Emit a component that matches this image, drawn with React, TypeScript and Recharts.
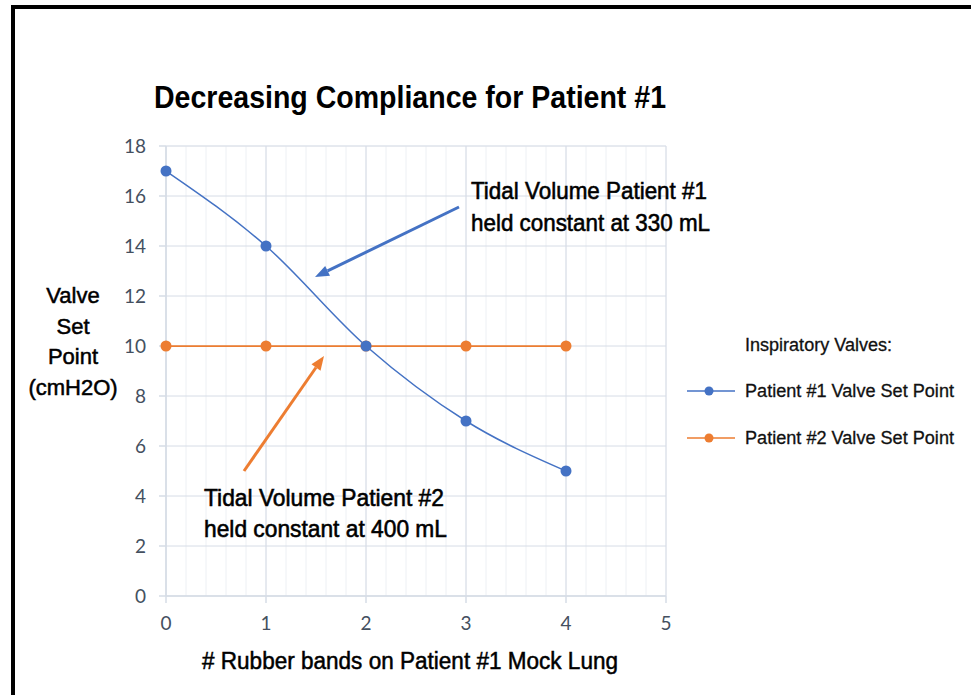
import React from 'react';
import {
  LineChart,
  Line,
  XAxis,
  YAxis,
  CartesianGrid,
  ReferenceLine,
  Legend,
} from 'recharts';

// ---- data ----
const rubberBands = [0, 1, 2, 3, 4];
const patient1 = [17, 14, 10, 7, 5];
const patient2 = [10, 10, 10, 10, 10];
const xTicks = [0, 1, 2, 3, 4, 5];
const yTicks = [0, 2, 4, 6, 8, 10, 12, 14, 16, 18];
const seriesNames = ['Patient #1 Valve Set Point', 'Patient #2 Valve Set Point'];
const legendTitle = 'Inspiratory Valves:';
const chartTitle = 'Decreasing Compliance for Patient #1';
const xLabel = '# Rubber bands on Patient #1 Mock Lung';
const yLabelLines = ['Valve', 'Set', 'Point', '(cmH2O)'];
const note1Lines = ['Tidal Volume Patient #1', 'held constant at 330 mL'];
const note2Lines = ['Tidal Volume Patient #2', 'held constant at 400 mL'];
// arrows: [tail, head] in data coordinates
const arrow1 = [{ x: 2.93, y: 15.56 }, { x: 1.49, y: 12.76 }];
const arrow2 = [{ x: 0.78, y: 5.0 }, { x: 1.58, y: 9.6 }];

const minorXTicks = Array.from({ length: 26 }, (_, i) => +(i * 0.2).toFixed(2));
const minorYTicks = Array.from({ length: 46 }, (_, i) => +(i * 0.4).toFixed(2));

const data = rubberBands.map((x, i) => ({ x, p1: patient1[i], p2: patient2[i] }));

const BLUE = '#4472C4';
const ORANGE = '#ED7D31';
const MAJOR = '#d6dce6';
const MINOR = '#edf0f4';
const TICK_COLOR = '#44505f';
const TXT_FONT = "'Liberation Sans', Arial, sans-serif";

const makeArrow = (color: string) => (props: any) => {
  const { x1, y1, x2, y2 } = props;
  const ang = Math.atan2(y2 - y1, x2 - x1);
  const len = 14;
  const half = 5.5;
  const bx = x2 - len * Math.cos(ang);
  const by = y2 - len * Math.sin(ang);
  const px = -Math.sin(ang) * half;
  const py = Math.cos(ang) * half;
  return (
    <g>
      <line x1={x1} y1={y1} x2={bx} y2={by} stroke={color} strokeWidth={3} />
      <polygon points={`${x2},${y2} ${bx + px},${by + py} ${bx - px},${by - py}`} fill={color} />
    </g>
  );
};

const LegendContent = (props: any) => {
  const payload = props.payload || [];
  return (
    <svg width={290} height={140} style={{ display: 'block' }}>
      <text x={65} y={26} fontFamily={TXT_FONT} fontSize={18} fill="#111" stroke="#111" strokeWidth={0.3} textLength={147} lengthAdjust="spacingAndGlyphs">
        {legendTitle}
      </text>
      {payload.map((p: any, i: number) => {
        const cy = 66 + i * 47;
        return (
          <g key={i}>
            <line x1={7} y1={cy} x2={55} y2={cy} stroke={p.color} strokeWidth={1.5} />
            <circle cx={29} cy={cy} r={4.5} fill={p.color} />
            <text x={65} y={cy + 6} fontFamily={TXT_FONT} fontSize={18} fill="#111" stroke="#111" strokeWidth={0.3} textLength={209} lengthAdjust="spacingAndGlyphs">
              {p.value}
            </text>
          </g>
        );
      })}
    </svg>
  );
};

export default function App() {
  return (
    <div style={{ position: 'absolute', left: 0, top: 0, width: 971, height: 695, background: '#fff' }}>
      <LineChart
        width={971}
        height={695}
        data={data}
        margin={{ top: 146, right: 305, bottom: 59, left: 106 }}
      >
        <XAxis xAxisId="minor" dataKey="x" type="number" domain={[0, 5]} ticks={minorXTicks} interval={0} hide />
        <YAxis yAxisId="minor" type="number" domain={[0, 18]} ticks={minorYTicks} interval={0} hide />
        <CartesianGrid xAxisId="minor" yAxisId="minor" stroke={MINOR} strokeWidth={1} />
        <CartesianGrid stroke={MAJOR} strokeWidth={1} />
        <XAxis
          dataKey="x"
          type="number"
          domain={[0, 5]}
          ticks={xTicks}
          interval={0}
          height={40}
          tickSize={7}
          tickMargin={14}
          axisLine={{ stroke: MAJOR, strokeWidth: 1.5 }}
          tickLine={{ stroke: MAJOR, strokeWidth: 1.5 }}
          tick={{ fill: TICK_COLOR, fontSize: 19, fontFamily: 'Lato, sans-serif' }}
        />
        <YAxis
          type="number"
          domain={[0, 18]}
          ticks={yTicks}
          interval={0}
          width={60}
          tickSize={7}
          tickMargin={13}
          axisLine={{ stroke: MAJOR, strokeWidth: 1.5 }}
          tickLine={{ stroke: MAJOR, strokeWidth: 1.5 }}
          tick={{ fill: TICK_COLOR, fontSize: 19, fontFamily: 'Lato, sans-serif' }}
        />
        <Line
          dataKey="p2"
          name={seriesNames[1]}
          type="linear"
          stroke={ORANGE}
          strokeWidth={1.75}
          dot={{ r: 5.5, fill: ORANGE, stroke: ORANGE, strokeWidth: 0 }}
          activeDot={false}
          isAnimationActive={false}
        />
        <Line
          dataKey="p1"
          name={seriesNames[0]}
          type="monotone"
          stroke={BLUE}
          strokeWidth={1.5}
          dot={{ r: 5.5, fill: BLUE, stroke: BLUE, strokeWidth: 0 }}
          activeDot={false}
          isAnimationActive={false}
        />
        <ReferenceLine segment={arrow1} stroke={BLUE} shape={makeArrow(BLUE)} ifOverflow="visible" />
        <ReferenceLine segment={arrow2} stroke={ORANGE} shape={makeArrow(ORANGE)} ifOverflow="visible" />
        <Legend
          layout="vertical"
          align="center"
          verticalAlign="middle"
          payload={[
            { value: seriesNames[0], type: 'line', color: BLUE, id: 'p1' },
            { value: seriesNames[1], type: 'line', color: ORANGE, id: 'p2' },
          ]}
          content={LegendContent}
          wrapperStyle={{ position: 'absolute', left: 680, top: 325, width: 290, height: 140 }}
        />
      </LineChart>
      <svg
        width={971}
        height={695}
        style={{ position: 'absolute', left: 0, top: 0, pointerEvents: 'none' }}
      >
        <rect x={11} y={5} width={960} height={4} fill="#000" />
        <rect x={11} y={5} width={4} height={690} fill="#000" />
        <text x={154} y={108} fontFamily={TXT_FONT} fontWeight="bold" fontSize={31} fill="#000" textLength={512} lengthAdjust="spacingAndGlyphs">
          {chartTitle}
        </text>
        {note1Lines.map((t, i) => (
          <text key={'n1' + i} x={471} y={199 + i * 32} fontFamily={TXT_FONT} fontSize={24.5} fill="#000" stroke="#000" strokeWidth={0.6} textLength={i === 0 ? 236 : 239} lengthAdjust="spacingAndGlyphs">
            {t}
          </text>
        ))}
        {note2Lines.map((t, i) => (
          <text key={'n2' + i} x={204} y={506 + i * 31} fontFamily={TXT_FONT} fontSize={24.5} fill="#000" stroke="#000" strokeWidth={0.6} textLength={i === 0 ? 240 : 243} lengthAdjust="spacingAndGlyphs">
            {t}
          </text>
        ))}
        <text x={202} y={669} fontFamily={TXT_FONT} fontSize={23} fill="#000" stroke="#000" strokeWidth={0.5} textLength={416} lengthAdjust="spacingAndGlyphs">
          {xLabel}
        </text>
        {yLabelLines.map((t, i) => (
          <text key={'y' + i} x={73} y={303 + i * 30.7} textAnchor="middle" fontFamily={TXT_FONT} fontSize={22} fill="#000" stroke="#000" strokeWidth={0.5}>
            {t}
          </text>
        ))}
      </svg>
    </div>
  );
}
